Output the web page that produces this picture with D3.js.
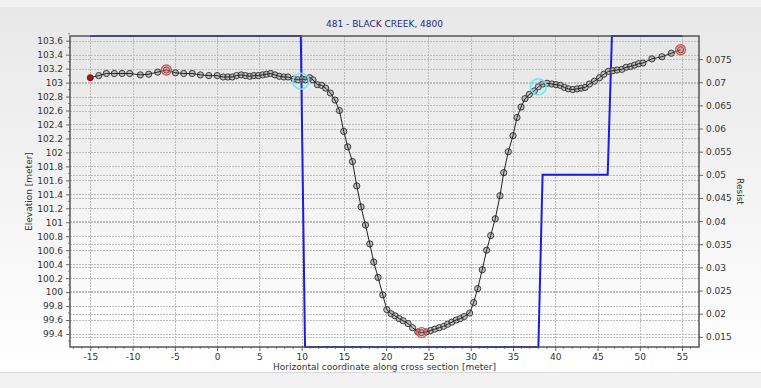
<!DOCTYPE html>
<html>
<head>
<meta charset="utf-8">
<script src="https://cdn.jsdelivr.net/npm/d3@7"></script>
<style>
  body { margin: 0; background: #f2f2f2; }
  svg { display: block; font-family: "DejaVu Sans", sans-serif; }
</style>
</head>
<body>
<div id="chart"></div>
<script>
// cross section stations [m] and elevations [m]
const station = [-15.0, -14.0, -13.1, -12.16, -11.24, -10.34, -9.08, -8.09, -7.03, -6.0,
  -4.93, -3.95, -2.95, -1.97, -0.98, 0.01, 0.72, 1.27, 1.79, 2.3,
  2.86, 3.36, 3.87, 4.35, 4.87, 5.38, 5.85, 6.33, 6.84, 7.36,
  7.9, 8.38, 9.09, 9.56, 10.08, 10.45, 10.95, 11.34, 11.86, 12.37,
  12.84, 13.4, 13.95, 14.47, 14.98, 15.45, 16.01, 16.52, 17.03, 17.55,
  18.06, 18.53, 19.04, 19.6, 20.07, 20.58, 21.05, 21.53, 22.0, 22.59,
  23.12, 23.74, 24.18, 24.77, 25.28, 25.76, 26.27, 26.79, 27.26, 27.77,
  28.28, 28.76, 29.23, 29.87, 30.34, 30.82, 31.36, 31.88, 32.36, 32.9,
  33.46, 33.9, 34.44, 35.0, 35.47, 35.95, 36.42, 36.93, 37.52, 38.0,
  38.52, 39.03, 39.59, 40.09, 40.6, 41.08, 41.55, 42.07, 42.58, 43.06,
  43.53, 44.04, 44.63, 45.23, 45.75, 46.29, 46.81, 47.31, 47.88, 48.39,
  48.9, 49.37, 49.85, 50.37, 51.43, 52.62, 53.72, 54.82];
const elevation = [103.07, 103.1, 103.13, 103.13, 103.13, 103.13, 103.11, 103.12, 103.15, 103.18,
  103.14, 103.13, 103.13, 103.11, 103.1, 103.1, 103.08, 103.08, 103.08, 103.1,
  103.11, 103.1, 103.09, 103.1, 103.1, 103.11, 103.12, 103.13, 103.11, 103.09,
  103.08, 103.08, 103.05, 103.04, 103.05, 103.04, 103.07, 103.04, 102.97, 102.96,
  102.92, 102.85, 102.75, 102.6, 102.3, 102.08, 101.87, 101.52, 101.22, 100.96,
  100.69, 100.43, 100.21, 99.96, 99.75, 99.69, 99.66, 99.62, 99.59, 99.55,
  99.49, 99.43, 99.42, 99.43, 99.45, 99.47, 99.49, 99.51, 99.54, 99.57,
  99.6, 99.62, 99.65, 99.7, 99.85, 100.05, 100.32, 100.6, 100.81, 101.05,
  101.38, 101.71, 102.01, 102.24, 102.5, 102.65, 102.77, 102.83, 102.88, 102.94,
  102.98, 102.99, 102.98, 102.97, 102.96, 102.93, 102.91, 102.9, 102.91, 102.92,
  102.93, 102.98, 103.02, 103.07, 103.12, 103.16, 103.17, 103.18, 103.19, 103.22,
  103.23, 103.25, 103.27, 103.28, 103.34, 103.37, 103.42, 103.47];

// resistance along the section
const resistX = [-15, 9.9, 10.4, 38.0, 38.5, 46.2, 46.7, 55];
const resistV = [0.08, 0.08, 0.0128, 0.0128, 0.05, 0.05, 0.08, 0.08];

// marked points
const redMarkX = [-6.0, 24.18, 54.82];
const redMarkY = [103.18, 99.42, 103.47];
const cyanMarkX = [9.9, 38.0];
const cyanMarkY = [103.02, 102.94];

const xTicks = d3.range(-15, 56, 5);
const yTicks = d3.range(99.4, 103.61, 0.2);
const y2Ticks = d3.range(0.015, 0.0751, 0.005);

const W = 761, H = 388;
const svg = d3.select("#chart").append("svg").attr("width", W).attr("height", H);

const defs = svg.append("defs");
const g1 = defs.append("linearGradient").attr("id", "panelGrad").attr("x1", 0).attr("y1", 0).attr("x2", 0).attr("y2", 1);
g1.append("stop").attr("offset", "0%").attr("stop-color", "#e8e8e8");
g1.append("stop").attr("offset", "100%").attr("stop-color", "#ffffff");
const g2 = defs.append("linearGradient").attr("id", "plotGrad").attr("x1", 0).attr("y1", 0).attr("x2", 0).attr("y2", 1);
g2.append("stop").attr("offset", "0%").attr("stop-color", "#e6e6e6");
g2.append("stop").attr("offset", "100%").attr("stop-color", "#ffffff");

svg.append("rect").attr("x", 0).attr("y", 0).attr("width", W).attr("height", H).attr("fill", "#f2f2f2");
svg.append("rect").attr("x", 0).attr("y", 7).attr("width", W).attr("height", 365).attr("fill", "url(#panelGrad)");
svg.append("line").attr("x1", 0).attr("x2", W).attr("y1", 372.5).attr("y2", 372.5).attr("stroke", "#d8d8d8");

const L = 70, R = 699, T = 36, B = 347;
const x = d3.scaleLinear().domain([-17.4, 57]).range([L, R]);
const y = d3.scaleLinear().domain([99.214, 103.667]).range([B, T]);
const y2 = d3.scaleLinear().domain([0.0128, 0.08]).range([B, T]);

svg.append("rect").attr("x", L).attr("y", T).attr("width", R - L).attr("height", B - T).attr("fill", "url(#plotGrad)");

// grid
const grid = svg.append("g").attr("stroke", "#bcbcbc").attr("stroke-dasharray", "2,1").attr("stroke-width", 1);
grid.selectAll(".gx").data(xTicks).join("line")
  .attr("x1", d => Math.round(x(d)) + 0.5).attr("x2", d => Math.round(x(d)) + 0.5)
  .attr("y1", T).attr("y2", B);
grid.selectAll(".gy").data(yTicks).join("line")
  .attr("x1", L).attr("x2", R)
  .attr("y1", d => Math.round(y(d)) + 0.5).attr("y2", d => Math.round(y(d)) + 0.5);
grid.selectAll(".gy2").data(y2Ticks).join("line")
  .attr("x1", L).attr("x2", R)
  .attr("y1", d => Math.round(y2(d)) + 0.5).attr("y2", d => Math.round(y2(d)) + 0.5);

// axes
const xAxis = d3.axisBottom(x).tickValues(xTicks).tickSize(4).tickPadding(3).tickFormat(d => d);
const yAxis = d3.axisLeft(y).tickValues(yTicks).tickSize(4).tickPadding(3).tickFormat(d => +d.toFixed(1));
const y2Axis = d3.axisRight(y2).tickValues(y2Ticks).tickSize(4).tickPadding(3).tickFormat(d => +d.toFixed(3));

function styleAxis(g) {
  g.select(".domain").remove();
  g.selectAll(".tick line").attr("stroke", "#666");
  g.selectAll(".tick text").attr("fill", "#333").style("font-size", "9px").style("font-family", "DejaVu Sans, sans-serif");
}
svg.append("g").attr("transform", `translate(0,${B})`).call(xAxis).call(styleAxis);
svg.append("g").attr("transform", `translate(${L},0)`).call(yAxis).call(styleAxis);
svg.append("g").attr("transform", `translate(${R},0)`).call(y2Axis).call(styleAxis);

// minor ticks on bottom
svg.append("g").selectAll("line").data(d3.range(-17, 57, 1).filter(d => d % 5 !== 0)).join("line")
  .attr("x1", d => x(d)).attr("x2", d => x(d)).attr("y1", B).attr("y2", B + 2)
  .attr("stroke", "#888");
// minor ticks on left
svg.append("g").selectAll("line").data(d3.range(99.3, 103.7, 0.2)).join("line")
  .attr("x1", L - 2).attr("x2", L).attr("y1", d => y(d)).attr("y2", d => y(d))
  .attr("stroke", "#888");

// resist line
const resistPts = resistX.map((d, i) => [d, resistV[i]]);
svg.append("path").datum(resistPts)
  .attr("fill", "none").attr("stroke", "#1c1ce0").attr("stroke-width", 2)
  .attr("d", d3.line().x(d => x(d[0])).y(d => y2(d[1])));

// elevation markers and line
const pts = station.map((d, i) => [d, elevation[i]]);
svg.append("g").selectAll("circle").data(pts.slice(1)).join("circle")
  .attr("cx", d => x(d[0])).attr("cy", d => y(d[1])).attr("r", 3.1)
  .attr("fill", "rgba(170,170,170,0.7)").attr("stroke", "#3a3a3a").attr("stroke-width", 1);
svg.append("path").datum(pts)
  .attr("fill", "none").attr("stroke", "#222").attr("stroke-width", 1)
  .attr("d", d3.line().x(d => x(d[0])).y(d => y(d[1])));
svg.append("circle").attr("cx", x(station[0])).attr("cy", y(elevation[0])).attr("r", 3)
  .attr("fill", "#a01818").attr("stroke", "#701010");

svg.append("g").selectAll("circle").data(redMarkX).join("circle")
  .attr("cx", d => x(d)).attr("cy", (d, i) => y(redMarkY[i])).attr("r", 5)
  .attr("fill", "rgba(240,120,120,0.3)").attr("stroke", "#e05454").attr("stroke-width", 1.3);
svg.append("g").selectAll("circle").data(cyanMarkX).join("circle")
  .attr("cx", d => x(d)).attr("cy", (d, i) => y(cyanMarkY[i])).attr("r", 8)
  .attr("fill", "rgba(120,230,240,0.12)").attr("stroke", "#72e4ec").attr("stroke-width", 1.5);

// frame
svg.append("rect").attr("x", L).attr("y", T).attr("width", R - L).attr("height", B - T)
  .attr("fill", "none").attr("stroke", "#555").attr("stroke-width", 1.5);

// titles
svg.append("text").attr("x", (L + R) / 2).attr("y", 27).attr("text-anchor", "middle")
  .attr("fill", "#1e2a78").style("font-size", "9px").text("481 - BLACK CREEK, 4800");
svg.append("text").attr("x", (L + R) / 2).attr("y", 370).attr("text-anchor", "middle")
  .attr("fill", "#333").style("font-size", "9px").text("Horizontal coordinate along cross section [meter]");
svg.append("text").attr("transform", `translate(32,${(T + B) / 2}) rotate(-90)`).attr("text-anchor", "middle")
  .attr("fill", "#333").style("font-size", "9px").text("Elevation [meter]");
svg.append("text").attr("transform", `translate(737,${(T + B) / 2}) rotate(90)`).attr("text-anchor", "middle")
  .attr("fill", "#333").style("font-size", "9px").text("Resist");
</script>
</body>
</html>
